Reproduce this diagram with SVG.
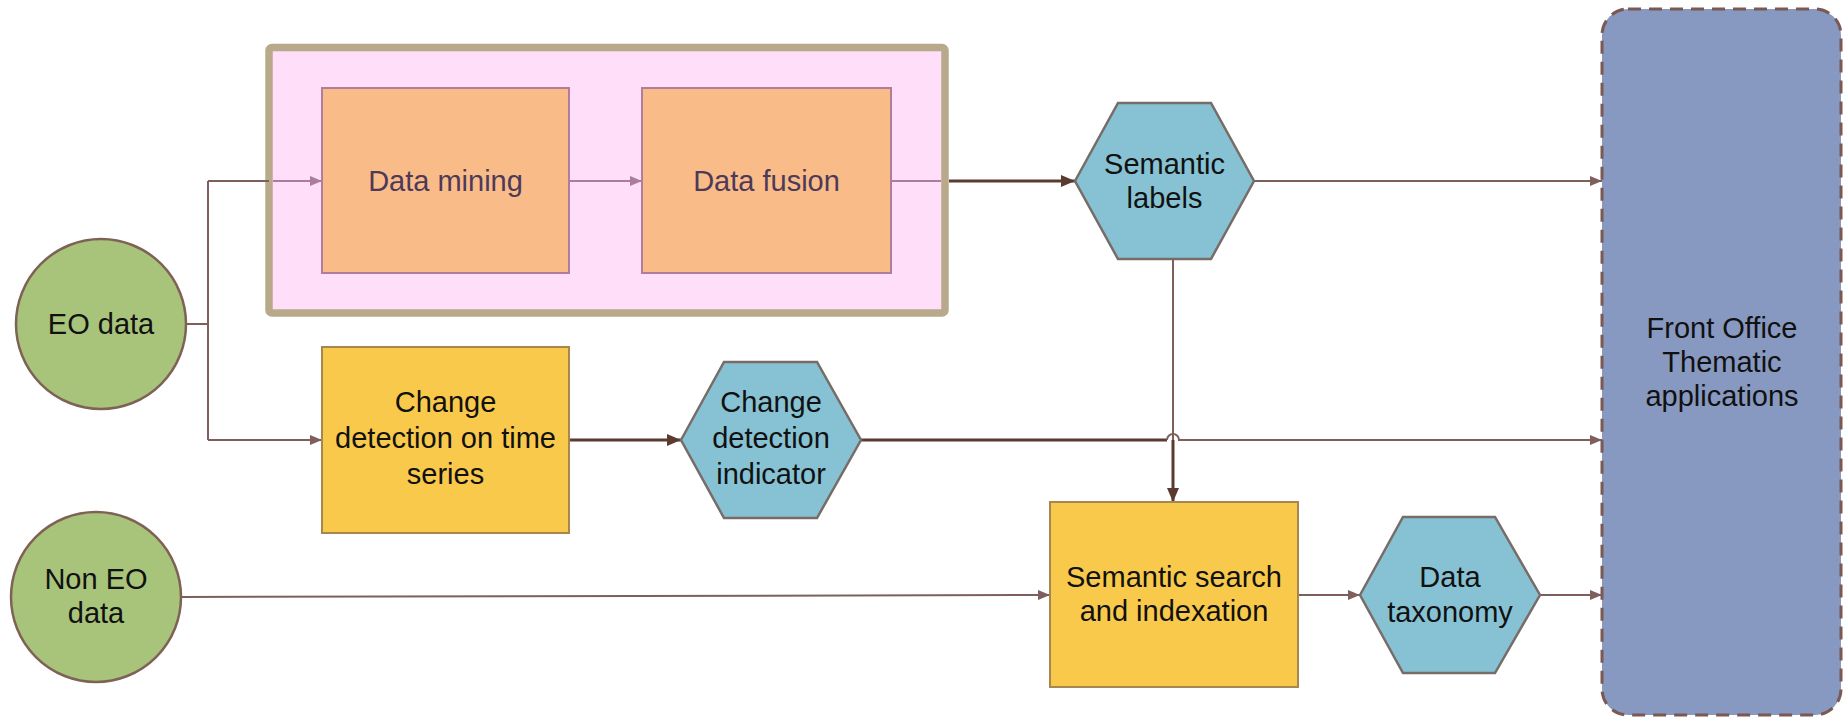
<svg xmlns="http://www.w3.org/2000/svg" width="1843" height="718" viewBox="0 0 1843 718">
<style>
text{font-family:"Liberation Sans",Arial,sans-serif;font-size:29px;text-anchor:middle;fill:#111}
.orange{fill:#F9BC89;stroke:#B07D9A;stroke-width:2}
.orange-t{fill:#4D3958}
.gold{fill:#F9C94B;stroke:#A8864F;stroke-width:2}
.hex{fill:#86C2D3;stroke:#776C68;stroke-width:2.5}
.green{fill:#A8C47B;stroke:#7E6256;stroke-width:2.5}
.thin{fill:none;stroke:#7E5F5B;stroke-width:2}
.thick{fill:none;stroke:#5B3A30;stroke-width:3}
.mauve{fill:none;stroke:#A97D9B;stroke-width:2}
</style>
<defs>
<marker id="aThin" viewBox="0 0 12 10" refX="12" refY="5" markerWidth="12" markerHeight="10" markerUnits="userSpaceOnUse" orient="auto"><path d="M0,0 L12,5 L0,10 z" fill="#7E5F5B"/></marker>
<marker id="aThick" viewBox="0 0 14 12" refX="14" refY="6" markerWidth="14" markerHeight="12" markerUnits="userSpaceOnUse" orient="auto"><path d="M0,0 L14,6 L0,12 z" fill="#5B3A30"/></marker>
<marker id="aMauve" viewBox="0 0 12 10" refX="12" refY="5" markerWidth="12" markerHeight="10" markerUnits="userSpaceOnUse" orient="auto"><path d="M0,0 L12,5 L0,10 z" fill="#A97D9B"/></marker>
</defs>

<g id="container">
<rect x="269" y="47.5" width="676" height="265.5" rx="3" fill="#FEDEF8" stroke="#B8A98A" stroke-width="7.5"/>
</g>

<g id="front-office">
<rect x="1602" y="9" width="239" height="706" rx="26" fill="#8799C1" stroke="#7B5953" stroke-width="3" stroke-dasharray="13,8"/>
<text x="1722" y="338">Front Office</text>
<text x="1722" y="372">Thematic</text>
<text x="1722" y="406">applications</text>
</g>

<g id="connectors">
<path class="thin" d="M186,324 H208 M208,181 V440 M208,181 H269"/>
<path class="mauve" d="M273,181 H322" marker-end="url(#aMauve)"/>
<path class="thin" d="M208,440 H322" marker-end="url(#aThin)"/>
<path class="mauve" d="M569,181 H642" marker-end="url(#aMauve)"/>
<path class="mauve" d="M891,181 H941"/>
<path class="thick" d="M949,181 H1075" marker-end="url(#aThick)"/>
<path class="thin" d="M1254,181 H1602" marker-end="url(#aThin)"/>
<path class="thin" d="M1173,259 V440"/>
<path class="thick" d="M1173,440 V502" marker-end="url(#aThick)"/>
<path class="thick" d="M569,440 H681" marker-end="url(#aThick)"/>
<path class="thick" d="M861,440 H1167"/>
<path class="thin" d="M1167,440 A6,6 0 0 1 1179,440 H1602" marker-end="url(#aThin)"/>
<path class="thin" d="M181,597 L1050,595" marker-end="url(#aThin)"/>
<path class="thin" d="M1298,595 H1360" marker-end="url(#aThin)"/>
<path class="thin" d="M1540,595 H1602" marker-end="url(#aThin)"/>
</g>

<g id="eo-data">
<circle cx="101" cy="324" r="85" class="green"/>
<text x="101" y="334">EO data</text>
</g>

<g id="non-eo-data">
<circle cx="96" cy="597" r="85" class="green"/>
<text x="96" y="589">Non EO</text>
<text x="96" y="623">data</text>
</g>

<g id="data-mining">
<rect x="322" y="88" width="247" height="185" class="orange"/>
<text x="445.5" y="191" class="orange-t">Data mining</text>
</g>

<g id="data-fusion">
<rect x="642" y="88" width="249" height="185" class="orange"/>
<text x="766.5" y="191" class="orange-t">Data fusion</text>
</g>

<g id="change-detection">
<rect x="322" y="347" width="247" height="186" class="gold"/>
<text x="445.5" y="412">Change</text>
<text x="445.5" y="448">detection on time</text>
<text x="445.5" y="484">series</text>
</g>

<g id="semantic-labels">
<polygon points="1075,181 1118,103 1211,103 1254,181 1211,259 1118,259" class="hex"/>
<text x="1164.5" y="174">Semantic</text>
<text x="1164.5" y="208">labels</text>
</g>

<g id="change-indicator">
<polygon points="681,440 724,362 817,362 861,440 817,518 724,518" class="hex"/>
<text x="771" y="412">Change</text>
<text x="771" y="448">detection</text>
<text x="771" y="484">indicator</text>
</g>

<g id="semantic-search">
<rect x="1050" y="502" width="248" height="185" class="gold"/>
<text x="1174" y="587">Semantic search</text>
<text x="1174" y="621">and indexation</text>
</g>

<g id="data-taxonomy">
<polygon points="1360,595 1403,517 1495,517 1540,595 1495,673 1403,673" class="hex"/>
<text x="1450" y="587">Data</text>
<text x="1450" y="622">taxonomy</text>
</g>
</svg>
